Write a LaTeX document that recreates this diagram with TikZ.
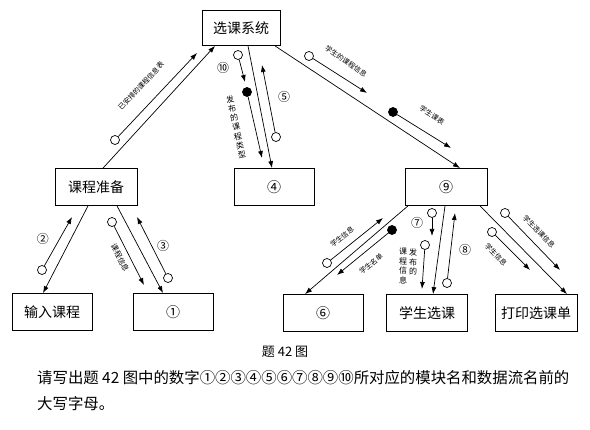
\documentclass[tikz,border=0pt]{standalone}
\usepackage{fontspec}
\setmainfont{Noto Sans CJK SC}
\usetikzlibrary{arrows.meta,calc}
\tikzset{
  box/.style={draw, line width=0.8pt, minimum width=80pt, minimum height=37pt, inner sep=0pt, font=\fontsize{14}{14}\selectfont},
  link/.style={line width=0.7pt, -{Latex[length=7pt,width=5pt]}},
  oc/.style={circle, draw, line width=0.7pt, minimum size=9pt, inner sep=0pt, fill=white},
  fc/.style={oc, fill=black},
  lbl/.style={font=\fontsize{7}{7}\selectfont, inner sep=0pt},
  vlbl/.style={font=\fontsize{8}{9.5}\selectfont, inner sep=0pt, align=center},
  num/.style={font=\fontsize{12}{12}\selectfont, inner sep=0pt}
}
\begin{document}
\begin{tikzpicture}[x=1pt,y=-1pt]
\useasboundingbox (0,0) rectangle (590,430);
% boxes
\node[box, minimum width=78pt, minimum height=35pt] (sys) at (241,28) {选课系统};
\node[box, minimum width=82pt] (prep) at (96,187) {课程准备};
\node[box] (four) at (274,187) {④};
\node[box, minimum width=82pt] (nine) at (446,187) {⑨};
\node[box] (input) at (52,312) {输入课程};
\node[box] (one) at (173,312) {①};
\node[box] (six) at (323,313) {⑥};
\node[box, minimum width=81pt] (stu) at (427,313) {学生选课};
\node[box, minimum width=82pt] (print) at (536,313) {打印选课单};

% call lines
\draw[link] ($(prep.north)+(7,0)$) -- ($(sys.south)+(-26,0)$);
\draw[link] ($(sys.south)+(7,0)$) -- ($(four.north)+(-2,0)$);
\draw[link] ($(sys.south)+(34,0)$) -- ($(nine.north)+(14,0)$);
\draw[link] ($(prep.south)+(-8,0)$) -- ($(input.north)+(-9,0)$);
\draw[link] ($(prep.south)+(21,0)$) -- ($(one.north)+(-10,0)$);
\draw[link] ($(nine.south)+(-38,0)$) -- ($(six.north)+(-18,0)$);
\draw[link] ($(nine.south)+(-1,0)$) -- ($(stu.north)+(6,0)$);
\draw[link] ($(nine.south)+(34,0)$) -- ($(print.north)+(31,0)$);

% flow: prep -> sys
\node[oc] (cA) at (115,140) {}; \coordinate (tA) at (197,53);
\draw[link] (cA) -- (tA);
\node[lbl, rotate=47] (lA) at (141,86) {已安排的课程信息表};

% flow 10
\node[oc] (c10) at (238,55) {}; \coordinate (t10) at (245,82);
\draw[link] (c10) -- (t10);
\node[num] (n10) at (223,68) {⑩};
\node[fc] (c10b) at (247,92) {}; \coordinate (t10b) at (262,158);
\draw[link] (c10b) -- (t10b);
\node[vlbl, rotate=12] (l10b) at (236,127) {发\\布\\的\\课\\程\\类\\型};

% flow 5
\node[oc] (c5) at (276,137) {}; \coordinate (t5) at (262,65);
\draw[link] (c5) -- (t5);
\node[num] (n5) at (284,97) {⑤};

% flows sys -> nine
\node[oc] (cR1) at (309,56) {}; \coordinate (tR1) at (367,93);
\draw[link] (cR1) -- (tR1);
\node[lbl, rotate=-35] (lR1) at (346,61) {学生的课程信息};
\node[fc] (cR2) at (393,112) {}; \coordinate (tR2) at (451,148);
\draw[link] (cR2) -- (tR2);
\node[lbl, rotate=-33] (lR2) at (432,115) {学生课表};

% flow 2
\node[oc] (c2) at (42,270) {}; \coordinate (t2) at (72,217);
\draw[link] (c2) -- (t2);
\node[num] (n2) at (43,239) {②};

% flow course info
\node[oc] (cC) at (112,222) {}; \coordinate (tC) at (144,285);
\draw[link] (cC) -- (tC);
\node[lbl, rotate=-63, font=\fontsize{7.5}{7.5}\selectfont] (lC) at (120,258) {课程信息};

% flow 3
\node[oc] (c3) at (168,278) {}; \coordinate (t3) at (137,217);
\draw[link] (c3) -- (t3);
\node[num] (n3) at (163,246) {③};

% flows nine <-> six
\node[oc] (c6a) at (327,263) {}; \coordinate (t6a) at (383,218);
\draw[link] (c6a) -- (t6a);
\node[lbl, rotate=39] (l6a) at (342,237) {学生信息};
\node[fc] (c6b) at (392,230) {}; \coordinate (t6b) at (337,275);
\draw[link] (c6b) -- (t6b);
\node[lbl, rotate=39] (l6b) at (371,264) {学生名单};

% flow 7
\node[oc] (c7) at (432,213) {}; \coordinate (t7) at (432,236);
\draw[link] (c7) -- (t7);
\node[num] (n7) at (417,223) {⑦};
\node[oc] (c7b) at (425,245) {}; \coordinate (t7b) at (422,289);
\draw[link] (c7b) -- (t7b);
\node[vlbl] (l7a) at (413,262) {发\\布\\的};
\node[vlbl] (l7b) at (403,266) {课\\程\\信\\息};

% flow 8
\node[oc] (c8) at (447,283) {}; \coordinate (t8) at (455,213);
\draw[link] (c8) -- (t8);
\node[num] (n8) at (465,250) {⑧};

% flows nine -> print
\node[oc] (cP1) at (505,213) {}; \coordinate (tP1) at (560,270);
\draw[link] (cP1) -- (tP1);
\node[lbl, rotate=-46] (lP1) at (539,232) {学生选课信息};
\node[oc] (cP2) at (492,232) {}; \coordinate (tP2) at (530,270);
\draw[link] (cP2) -- (tP2);
\node[lbl, rotate=-46] (lP2) at (496,255) {学生信息};

% caption and question
\node[font=\fontsize{13}{13}\selectfont, inner sep=0pt] (cap) at (285,352) {题 42 图};
\node[font=\fontsize{15.4}{15.4}\selectfont, inner sep=0pt, anchor=west] (q1) at (37,378) {请写出题 42 图中的数字①②③④⑤⑥⑦⑧⑨⑩所对应的模块名和数据流名前的};
\node[font=\fontsize{15.4}{15.4}\selectfont, inner sep=0pt, anchor=west] (q2) at (37,404) {大写字母。};
\end{tikzpicture}
\end{document}
